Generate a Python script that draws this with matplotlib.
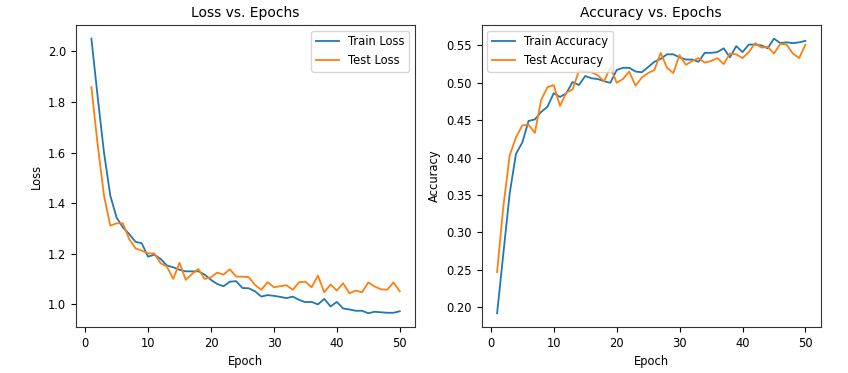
import numpy as np
import matplotlib
matplotlib.use("Agg")
import matplotlib.pyplot as plt

epochs = np.arange(1, 51)

train_loss = [2.051, 1.82, 1.60, 1.43, 1.343, 1.304, 1.278, 1.247, 1.241, 1.188,
              1.196, 1.179, 1.153, 1.146, 1.136, 1.130, 1.130, 1.130, 1.117, 1.096,
              1.080, 1.071, 1.089, 1.091, 1.064, 1.063, 1.051, 1.030, 1.036, 1.033,
              1.029, 1.024, 1.030, 1.017, 1.008, 1.009, 0.999, 1.021, 0.991, 1.009,
              0.983, 0.979, 0.974, 0.974, 0.964, 0.970, 0.968, 0.966, 0.966, 0.972]
test_loss = [1.859, 1.63, 1.43, 1.311, 1.320, 1.320, 1.258, 1.221, 1.212, 1.201,
             1.201, 1.162, 1.149, 1.100, 1.164, 1.096, 1.120, 1.139, 1.100, 1.107,
             1.125, 1.117, 1.138, 1.109, 1.109, 1.107, 1.076, 1.057, 1.087, 1.067,
             1.071, 1.075, 1.057, 1.087, 1.089, 1.067, 1.113, 1.047, 1.078, 1.054,
             1.083, 1.043, 1.054, 1.047, 1.086, 1.070, 1.059, 1.057, 1.086, 1.051]

train_acc = [0.192, 0.272, 0.352, 0.405, 0.420, 0.449, 0.451, 0.461, 0.468, 0.486,
             0.481, 0.486, 0.501, 0.497, 0.509, 0.506, 0.505, 0.502, 0.500, 0.517,
             0.520, 0.520, 0.515, 0.514, 0.521, 0.528, 0.532, 0.538, 0.538, 0.534,
             0.531, 0.531, 0.528, 0.540, 0.540, 0.541, 0.546, 0.534, 0.549, 0.541,
             0.551, 0.551, 0.550, 0.546, 0.559, 0.553, 0.554, 0.553, 0.554, 0.556]
test_acc = [0.247, 0.335, 0.403, 0.427, 0.443, 0.444, 0.433, 0.477, 0.494, 0.497,
            0.469, 0.487, 0.491, 0.516, 0.515, 0.514, 0.510, 0.502, 0.521, 0.500,
            0.505, 0.515, 0.496, 0.507, 0.513, 0.517, 0.540, 0.520, 0.513, 0.537,
            0.524, 0.529, 0.533, 0.527, 0.529, 0.533, 0.525, 0.539, 0.538, 0.533,
            0.541, 0.553, 0.547, 0.548, 0.539, 0.552, 0.551, 0.539, 0.533, 0.551]

plt.rcParams["font.size"] = 8.3
plt.rcParams["axes.titlesize"] = 10
plt.rcParams["lines.linewidth"] = 1.3
plt.rcParams["axes.edgecolor"] = "#333333"

fig = plt.figure(figsize=(8.48, 3.73), dpi=100)
ax1 = fig.add_axes([0.0896, 0.1233, 0.40, 0.81])
ax2 = fig.add_axes([0.568, 0.1233, 0.40, 0.81])

# 左: loss
ax1.plot(epochs, train_loss, label="Train Loss")
ax1.plot(epochs, test_loss, label="Test Loss")
ax1.set_title("Loss vs. Epochs")
ax1.set_xlabel("Epoch")
ax1.set_ylabel("Loss")
ax1.legend(loc="upper right")

# 右: accuracy
ax2.plot(epochs, train_acc, label="Train Accuracy")
ax2.plot(epochs, test_acc, label="Test Accuracy")
ax2.set_title("Accuracy vs. Epochs")
ax2.set_xlabel("Epoch")
ax2.set_ylabel("Accuracy")
ax2.legend(loc="upper left")

fig.savefig("out.png", dpi=100)
